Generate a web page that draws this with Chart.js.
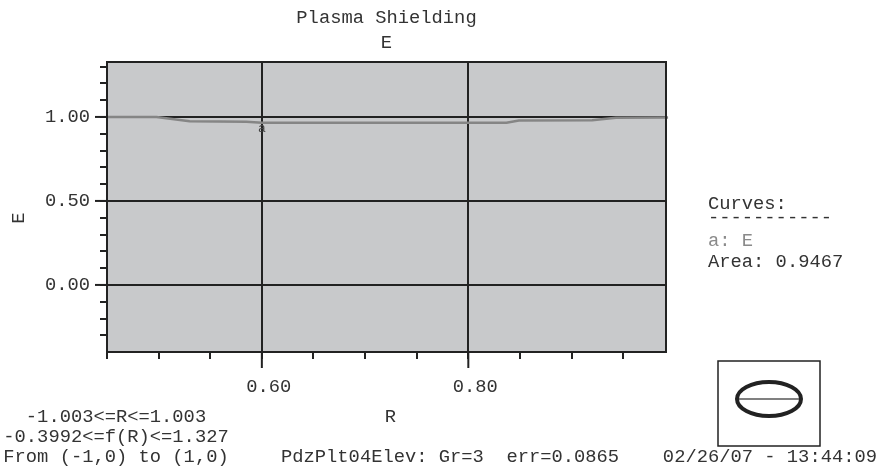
<!DOCTYPE html>
<html>
<head>
<meta charset="utf-8">
<script src="https://cdn.jsdelivr.net/npm/chart.js@4.4.1/dist/chart.umd.min.js"></script>
<style>
  html, body { margin: 0; padding: 0; background: #fff; }
  canvas { display: block; }
</style>
</head>
<body>
<canvas id="plot" width="878" height="470"></canvas>
<script>
// curve "a": E as a function of R
const rValues = [0.45, 0.498, 0.53, 0.585, 0.60, 0.70, 0.837, 0.849, 0.92, 0.943, 0.9935];
const eValues = [1.0, 0.999, 0.975, 0.971, 0.966, 0.966, 0.966, 0.979, 0.980, 0.995, 0.997];

const xRange = [0.45, 0.9915];
const yRange = [-0.3992, 1.327];
const xStep = 0.05, xLabelStep = 0.2;
const yStep = 0.1, yLabelStep = 0.5;

const titleLines = ["Plasma Shielding", "E"];
const xTitle = "R";
const yTitle = "E";
const legendLines = ["Curves:", "-----------", "a: E", "Area: 0.9467"];
const infoLines = ["-1.003<=R<=1.003", "-0.3992<=f(R)<=1.327", "From (-1,0) to (1,0)"];
const footerText = "PdzPlt04Elev: Gr=3  err=0.0865";
const stampText = "02/26/07 - 13:44:09";
const curveLabel = "a";
const curveLabelAt = 0.60;

const FONT = '"Liberation Mono", "Courier New", monospace';
const FONT_SIZE = 18.8;
const INK = "#222";
const TEXT = "#333";

function onStep(v, step) {
  const k = v / step;
  return Math.abs(k - Math.round(k)) < 1e-6;
}

// ── decorations: plot background, frame, long major ticks, texts, inset ──
const decorPlugin = {
  id: "decor",
  beforeDraw(chart) {
    const { ctx, chartArea: a } = chart;
    ctx.save();
    ctx.fillStyle = "#c8c9cb";
    ctx.fillRect(a.left, a.top, a.right - a.left, a.bottom - a.top);
    ctx.restore();
  },
  afterDraw(chart) {
    const { ctx, chartArea: a } = chart;
    const xs = chart.scales.x, ys = chart.scales.y;
    const midX = (a.left + a.right) / 2;
    ctx.save();

    // frame
    ctx.strokeStyle = INK;
    ctx.lineWidth = 2;
    ctx.strokeRect(a.left, a.top, a.right - a.left, a.bottom - a.top);

    // longer tick marks at the labelled values
    xs.ticks.forEach((t) => {
      if (!onStep(t.value, xLabelStep)) return;
      const px = xs.getPixelForValue(t.value);
      ctx.beginPath(); ctx.moveTo(px, a.bottom); ctx.lineTo(px, a.bottom + 16); ctx.stroke();
    });
    ys.ticks.forEach((t) => {
      if (!onStep(t.value, yLabelStep)) return;
      const py = ys.getPixelForValue(t.value);
      ctx.beginPath(); ctx.moveTo(a.left - 12, py); ctx.lineTo(a.left, py); ctx.stroke();
    });

    // curve label
    const meta = chart.getDatasetMeta(0);
    const idx = rValues.indexOf(curveLabelAt);
    if (idx >= 0) {
      const pt = meta.data[idx];
      ctx.font = "13px " + FONT;
      ctx.fillStyle = "#444";
      ctx.textAlign = "center";
      ctx.textBaseline = "top";
      ctx.fillText(curveLabel, pt.x, pt.y - 1);
    }

    // geometry inset (drawn before the footer so the stamp stays on top)
    ctx.fillStyle = "#fff";
    ctx.fillRect(718, 361, 102, 85);
    ctx.strokeStyle = INK;
    ctx.lineWidth = 1.5;
    ctx.strokeRect(718, 361, 102, 85);
    ctx.strokeStyle = "#808080";
    ctx.lineWidth = 2;
    ctx.beginPath(); ctx.moveTo(737, 399); ctx.lineTo(801, 399); ctx.stroke();
    ctx.strokeStyle = INK;
    ctx.lineWidth = 4;
    ctx.beginPath(); ctx.ellipse(769, 399, 32, 17, 0, 0, Math.PI * 2); ctx.stroke();

    ctx.font = FONT_SIZE + "px " + FONT;
    ctx.fillStyle = TEXT;
    ctx.textBaseline = "alphabetic";

    // titles, centred over the plot
    ctx.textAlign = "center";
    ctx.fillText(titleLines[0], midX, 23);
    ctx.fillText(titleLines[1], midX, 48);

    // axis titles
    ctx.fillText(xTitle, midX + 4, 422);
    ctx.save();
    ctx.translate(19, 218);
    ctx.rotate(-Math.PI / 2);
    ctx.textBaseline = "middle";
    ctx.fillText(yTitle, 0, 0);
    ctx.restore();

    // legend
    ctx.textAlign = "left";
    const legendY = [209, 223, 246, 267];
    legendLines.forEach((s, i) => {
      ctx.fillStyle = i === 2 ? "#8a8a8a" : TEXT;
      ctx.fillText(s, 708, legendY[i]);
    });
    ctx.fillStyle = TEXT;

    // range info and footer
    ctx.textAlign = "center";
    const infoY = [422, 442, 462];
    infoLines.forEach((s, i) => ctx.fillText(s, 116, infoY[i]));
    ctx.textAlign = "left";
    ctx.fillText(footerText, 281, 462);
    ctx.textAlign = "right";
    ctx.fillText(stampText, 877, 462);

    ctx.restore();
  },
};

new Chart(document.getElementById("plot"), {
  type: "scatter",
  data: {
    datasets: [{
      label: "E",
      data: rValues.map((r, i) => ({ x: r, y: eValues[i] })),
      showLine: true,
      borderColor: "#858585",
      borderWidth: 2.5,
      pointRadius: 0,
      tension: 0,
      clip: 4,
    }],
  },
  options: {
    responsive: false,
    animation: false,
    events: [],
    layout: { padding: { left: 0, right: 212, top: 62, bottom: 58 } },
    plugins: { legend: { display: false }, tooltip: { enabled: false }, title: { display: false } },
    scales: {
      x: {
        type: "linear",
        min: xRange[0],
        max: xRange[1],
        afterFit: (s) => { s.height = 60; },
        ticks: {
          stepSize: xStep,
          includeBounds: false,
          autoSkip: false,
          maxRotation: 0,
          padding: 17,
          labelOffset: 7,
          color: TEXT,
          font: { family: FONT, size: FONT_SIZE },
          callback: (v) => (onStep(v, xLabelStep) ? v.toFixed(2) : ""),
        },
        grid: {
          color: (c) => (c.tick && onStep(c.tick.value, xLabelStep) ? INK : "rgba(0,0,0,0)"),
          tickColor: INK,
          lineWidth: 2,
          tickLength: 7,
          tickWidth: 2,
        },
        border: { display: true, color: INK, width: 2 },
      },
      y: {
        type: "linear",
        min: yRange[0],
        max: yRange[1],
        afterFit: (s) => { s.width = 107; },
        ticks: {
          stepSize: yStep,
          includeBounds: false,
          autoSkip: false,
          padding: 10,
          color: TEXT,
          font: { family: FONT, size: FONT_SIZE },
          callback: (v) => (onStep(v, yLabelStep) ? v.toFixed(2) : ""),
        },
        grid: {
          color: (c) => (c.tick && onStep(c.tick.value, yLabelStep) ? INK : "rgba(0,0,0,0)"),
          tickColor: INK,
          lineWidth: 2,
          tickLength: 7,
          tickWidth: 2,
        },
        border: { display: true, color: INK, width: 2 },
      },
    },
  },
  plugins: [decorPlugin],
});
</script>
</body>
</html>
